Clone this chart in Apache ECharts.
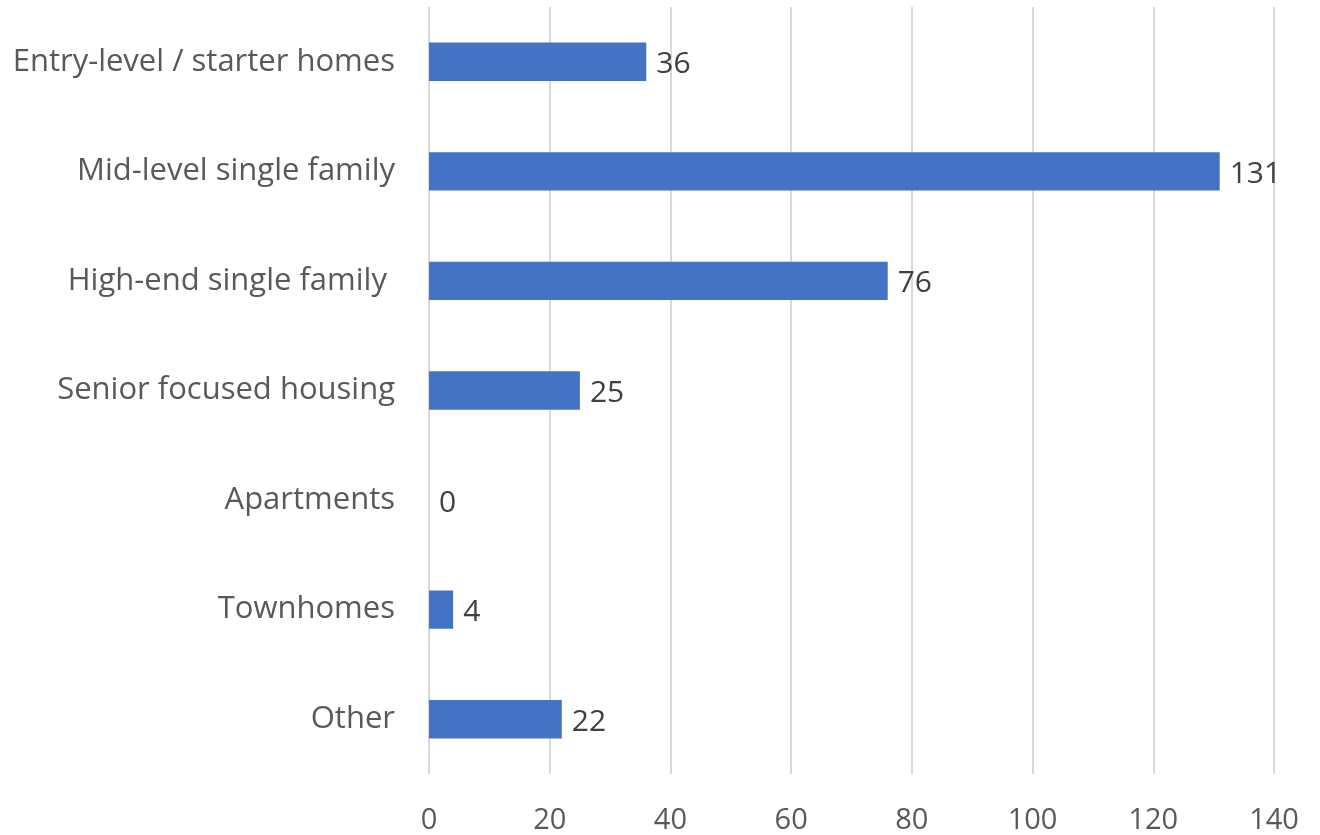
<!DOCTYPE html>
<html>
<head>
<meta charset="utf-8">
<script src="https://cdn.jsdelivr.net/npm/echarts@6/dist/echarts.min.js"></script>
<style>
html,body{margin:0;padding:0;background:#fff;}
#chart{width:1320px;height:835px;}
</style>
</head>
<body>
<div id="chart"></div>
<script>
const categories = ["Entry-level / starter homes","Mid-level single family","High-end single family ","Senior focused housing","Apartments","Townhomes","Other"];
const values = [36,131,76,25,0,4,22];
const xTicks = [0,20,40,60,80,100,120,140];

const chart = echarts.init(document.getElementById('chart'));
const font = '"Open Sans", "Liberation Sans", sans-serif';
chart.setOption({
  animation:false,
  grid:{left:429,right:46,top:7,bottom:61,containLabel:false},
  xAxis:{
    type:'value',min:0,max:140,interval:20,
    axisLine:{show:false},axisTick:{show:false},
    splitLine:{lineStyle:{color:'#d9d9d9',width:2}},
    axisLabel:{color:'#595959',fontFamily:font,fontSize:29,margin:32}
  },
  yAxis:{
    type:'category',data:categories,inverse:true,
    axisLine:{show:false},axisTick:{show:false},
    axisLabel:{color:'#595959',fontFamily:font,fontSize:31,margin:34,padding:[10,0,0,0]}
  },
  series:[{
    type:'bar',data:values,barWidth:'35%',
    itemStyle:{color:'#4472C4'},
    label:{show:true,position:'right',distance:10,color:'#404040',fontFamily:font,fontSize:30,offset:[0,3]}
  }]
});
</script>
</body>
</html>
